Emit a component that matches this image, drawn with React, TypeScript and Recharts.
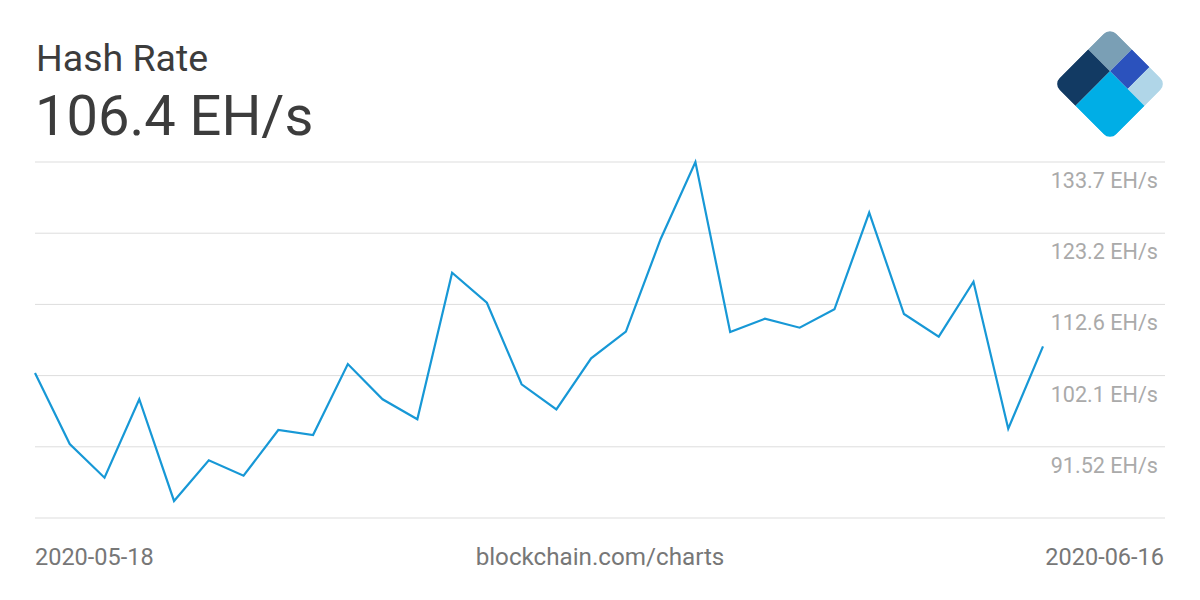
import { LineChart, Line, XAxis, YAxis, CartesianGrid } from 'recharts'

// daily hash rate, EH/s
const dates = [
  '2020-05-18', '2020-05-19', '2020-05-20', '2020-05-21', '2020-05-22', '2020-05-23',
  '2020-05-24', '2020-05-25', '2020-05-26', '2020-05-27', '2020-05-28', '2020-05-29',
  '2020-05-30', '2020-05-31', '2020-06-01', '2020-06-02', '2020-06-03', '2020-06-04',
  '2020-06-05', '2020-06-06', '2020-06-07', '2020-06-08', '2020-06-09', '2020-06-10',
  '2020-06-11', '2020-06-12', '2020-06-13', '2020-06-14', '2020-06-15', '2020-06-16',
]
const hashRate = [
  102.45, 91.93, 86.94, 98.56, 83.5, 89.52, 87.24, 94.01, 93.27, 103.78,
  98.56, 95.6, 117.3, 112.86, 100.78, 97.07, 104.63, 108.57, 122.3, 133.7,
  108.52, 110.49, 109.16, 111.88, 126.2, 111.19, 107.83, 115.97, 94.2, 106.4,
]
const yTicks = [80.975, 91.52, 102.065, 112.61, 123.155, 133.7]
const yTickLabels = ['', '91.52 EH/s', '102.1 EH/s', '112.6 EH/s', '123.2 EH/s', '133.7 EH/s']

const data = dates.map((d, i) => ({ date: d, value: hashRate[i] }))

const FONT = 'Roboto, "Noto Sans", sans-serif'

function renderTick(props: any) {
  const { y, payload } = props
  const idx = yTicks.indexOf(payload.value)
  return (
    <text key={`t-${idx}`} x={1158} y={y + 26} textAnchor="end" fill="#aaaaaa" fontSize={21.6} fontFamily={FONT}>
      {yTickLabels[idx]}
    </text>
  )
}

function Logo() {
  // rotated square split into five blocks
  return (
    <g transform="translate(1110,84) rotate(45) translate(-40,-40)">
      <defs>
        <clipPath id="logoClip">
          <rect x={0} y={0} width={80} height={80} rx={9} />
        </clipPath>
      </defs>
      <g clipPath="url(#logoClip)">
        <rect x={0} y={0} width={31} height={31} fill="#7a9fb5" />
        <rect x={31} y={0} width={25} height={31} fill="#2b52bd" />
        <rect x={56} y={0} width={24} height={31} fill="#b0d6e8" />
        <rect x={0} y={31} width={31} height={49} fill="#123a63" />
        <rect x={31} y={31} width={49} height={49} fill="#00aee6" />
      </g>
    </g>
  )
}

export default function App() {
  return (
    <div style={{ position: 'absolute', left: 0, top: 0, width: 1200, height: 600, background: '#fff' }}>
      <LineChart width={1200} height={600} data={data} margin={{ top: 162, right: 34, bottom: 82, left: 35 }}>
        <CartesianGrid vertical={false} stroke="#dddddd" strokeWidth={1} />
        <XAxis dataKey="date" hide padding={{ left: 0, right: 122 }} />
        <YAxis
          orientation="right"
          width={1}
          domain={[80.975, 133.7]}
          ticks={yTicks}
          axisLine={false}
          tickLine={false}
          tick={renderTick}
          interval={0}
        />
        <Line type="linear" dataKey="value" stroke="#1798d6" strokeWidth={2.2} dot={false} isAnimationActive={false} />
      </LineChart>
      <svg width={1200} height={600} style={{ position: 'absolute', left: 0, top: 0, pointerEvents: 'none' }}>
        <text x={36} y={71} fontSize={37.5} fill="#3c3c3c" fontFamily={FONT}>Hash Rate</text>
        <text x={35} y={135} fontSize={56} fill="#3c3c3c" fontFamily={FONT}>106.4 EH/s</text>
        <text x={35} y={565} fontSize={23.5} fill="#777777" fontFamily={FONT}>2020-05-18</text>
        <text x={600} y={565} fontSize={24.2} fill="#777777" fontFamily={FONT} textAnchor="middle">blockchain.com/charts</text>
        <text x={1164} y={565} fontSize={23.5} fill="#777777" fontFamily={FONT} textAnchor="end">2020-06-16</text>
        <Logo />
      </svg>
    </div>
  )
}
